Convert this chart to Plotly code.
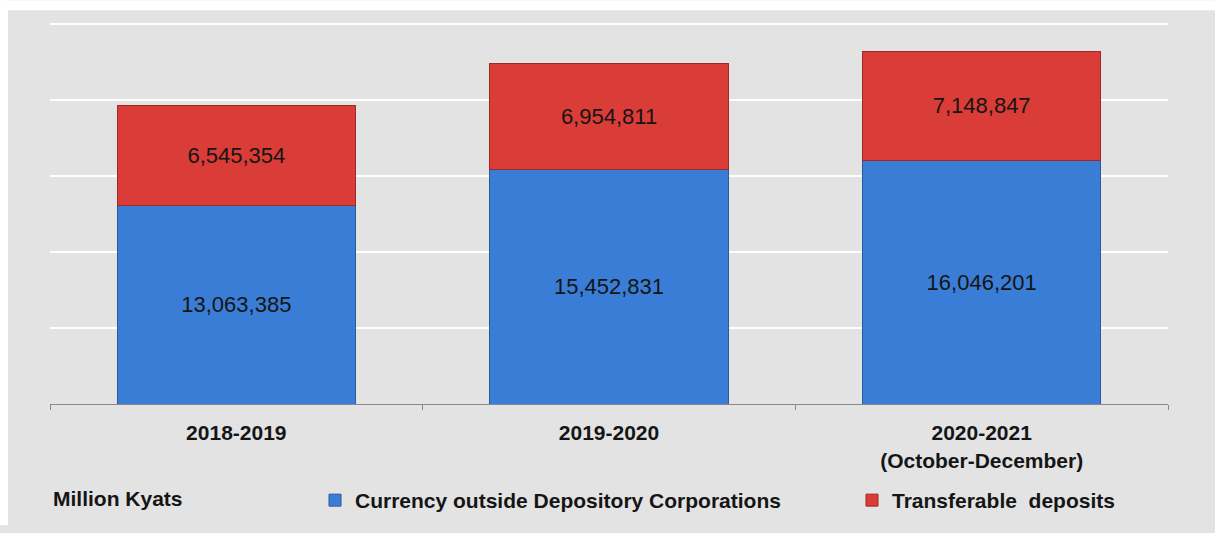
import plotly.graph_objects as go

categories = ["2018-2019", "2019-2020", "2020-2021<br>(October-December)"]
currency_outside = [13063385, 15452831, 16046201]
transferable_deposits = [6545354, 6954811, 7148847]
series_names = ["Currency outside Depository Corporations", "Transferable  deposits"]
unit_label = "Million Kyats"

W, H = 1215, 533
L, R, T, B = 50, 47, 19, 123
pw, ph = W - L - R, H - T - B
FONT = "Liberation Sans, Arial"

def px_x(x):
    return (x - L) / pw

def px_y(y):
    return (H - B - y) / ph

fig = go.Figure()
fig.add_trace(go.Bar(
    x=categories, y=currency_outside, name=series_names[0],
    marker=dict(color="#3a7dd6", line=dict(color="#2b5a9a", width=1)),
    texttemplate="%{y:,}", textposition="inside", insidetextanchor="middle",
    constraintext="none", textangle=0,
    textfont=dict(family=FONT, size=22, color="#151515"),
    legend="legend",
))
fig.add_trace(go.Bar(
    x=categories, y=transferable_deposits, name=series_names[1],
    marker=dict(color="#da3c37", line=dict(color="#9e2a26", width=1)),
    texttemplate="%{y:,}", textposition="inside", insidetextanchor="middle",
    constraintext="none", textangle=0,
    textfont=dict(family=FONT, size=22, color="#151515"),
    legend="legend2",
))

# white strips at the top and left of the grey panel
fig.add_shape(type="rect", xref="paper", yref="paper", layer="below",
              x0=px_x(0), x1=px_x(W), y0=px_y(10), y1=px_y(0),
              fillcolor="white", line=dict(width=0))
fig.add_shape(type="rect", xref="paper", yref="paper", layer="below",
              x0=px_x(0), x1=px_x(8), y0=px_y(H), y1=px_y(0),
              fillcolor="white", line=dict(width=0))

fig.add_annotation(text="<b>" + unit_label + "</b>", xref="paper", yref="paper",
                   x=px_x(51), y=px_y(506), xanchor="left", yanchor="middle",
                   showarrow=False,
                   font=dict(family=FONT, size=21, color="#151515"))

legend_font = dict(family=FONT, size=21, color="#151515", weight="bold")
fig.update_layout(
    width=W, height=H,
    margin=dict(l=L, r=R, t=T, b=B),
    paper_bgcolor="#e3e3e3", plot_bgcolor="#e3e3e3",
    barmode="stack", bargap=0.36,
    showlegend=True,
    legend=dict(orientation="h", x=px_x(315), y=px_y(508), xanchor="left", yanchor="middle",
                font=legend_font, bgcolor="rgba(0,0,0,0)"),
    legend2=dict(orientation="h", x=px_x(852), y=px_y(508), xanchor="left", yanchor="middle",
                 font=legend_font, bgcolor="rgba(0,0,0,0)"),
    xaxis=dict(
        showline=True, linecolor="#8a8a8a", linewidth=1.2,
        ticks="outside", tickson="boundaries", ticklen=5, tickcolor="#8a8a8a",
        ticklabelstandoff=10,
        tickfont=dict(family=FONT, size=21, color="#151515", weight="bold"),
        showgrid=False,
    ),
    yaxis=dict(
        range=[0, 25324000], dtick=5000000,
        showticklabels=False, showline=False, zeroline=False,
        gridcolor="#ffffff", gridwidth=1.5,
    ),
)

page_fix = (
    "var de=document.documentElement, b=document.body;"
    "de.style.margin='0'; b.style.margin='0'; de.style.padding='0'; b.style.padding='0';"
    "de.style.height='533px'; b.style.height='533px';"
    "de.style.overflow='hidden'; b.style.overflow='hidden'; b.style.background='#e3e3e3';"
)
fig.write_html("out.html", post_script=page_fix, config={"displayModeBar": False})
